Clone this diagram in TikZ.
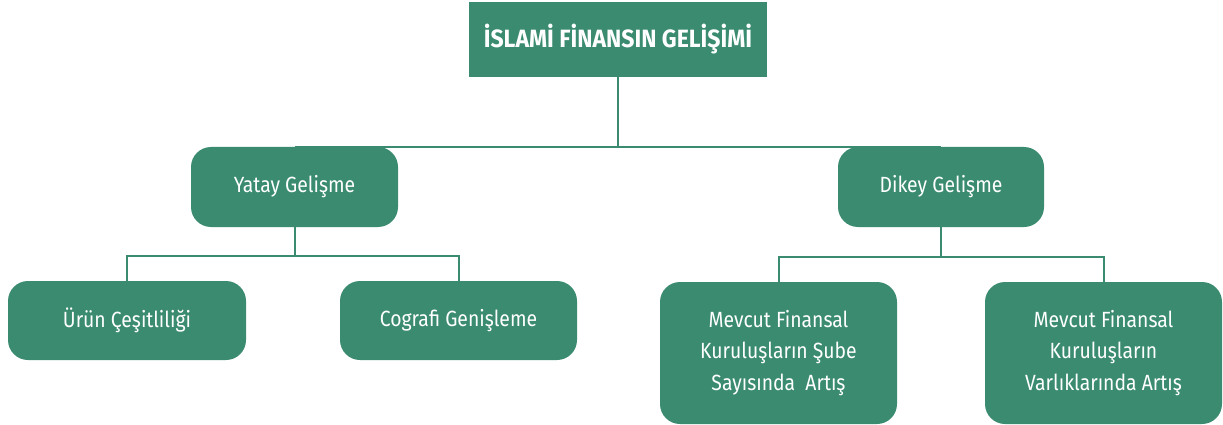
\documentclass[tikz,border=0pt]{standalone}
\usepackage{fontspec}
\setmainfont{Fira Sans}[FakeStretch=0.88]
\newfontfamily\titlefont{Fira Sans}[FakeStretch=0.92]
\usetikzlibrary{backgrounds}
\definecolor{ifgreen}{HTML}{3A8B70}
\begin{document}
\begin{tikzpicture}[x=1pt,y=-1pt,
  box/.style={fill=ifgreen, text=white, rounded corners=20pt, inner sep=0pt, align=center, font=\fontsize{22}{31.5}\selectfont},
  titlebox/.style={fill=ifgreen, text=white, inner sep=0pt, align=center, font=\titlefont\bfseries\fontsize{25}{28}\selectfont},
  conn/.style={draw=ifgreen, line width=2pt}]
\useasboundingbox (0,0) rectangle (1223,425);
\node[titlebox, minimum width=298pt, minimum height=75pt] (top) at (618,39.5) {İSLAMİ FİNANSIN GELİŞİMİ};
\node[box, minimum width=207pt, minimum height=80pt] (yatay) at (294.5,187) {Yatay Gelişme};
\node[box, minimum width=206pt, minimum height=80pt] (dikey) at (941,187) {Dikey Gelişme};
\node[box, minimum width=238pt, minimum height=79pt] (urun) at (127,320.5) {Ürün Çeşitliliği};
\node[box, minimum width=237pt, minimum height=79pt] (cog) at (458.5,320.5) {Cografi Genişleme};
\node[box, minimum width=237pt, minimum height=142pt] (sube) at (778.5,353) {Mevcut Finansal\\Kuruluşların Şube\\Sayısında~ Artış};
\node[box, minimum width=237pt, minimum height=142pt] (varlik) at (1103.5,353) {Mevcut Finansal\\Kuruluşların\\Varlıklarında Artış};
\path (yatay.south) ++(0,29) coordinate (yj);
\path (dikey.south) ++(0,30) coordinate (dj);
\begin{scope}[on background layer]
\draw[conn] (yatay.north) -- (dikey.north);
\draw[conn] (top.south) -- (top.south |- yatay.north);
\draw[conn] (yatay.south) -- (yj);
\draw[conn] (urun.north) |- (yj) -| (cog.north);
\draw[conn] (dikey.south) -- (dj);
\draw[conn] (sube.north) |- (dj) -| (varlik.north);
\end{scope}
\end{tikzpicture}
\end{document}
